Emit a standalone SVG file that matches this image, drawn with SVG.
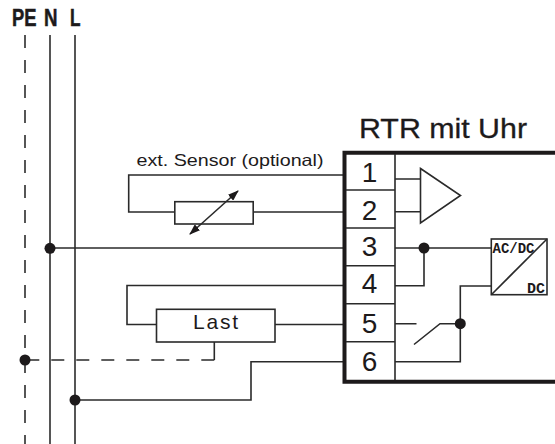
<svg xmlns="http://www.w3.org/2000/svg" width="555" height="444" viewBox="0 0 555 444">
<style>
text{font-family:"Liberation Sans",Arial,sans-serif;fill:#1d1a1b}
.w{fill:none;stroke:#2a2a2a;stroke-width:1.6}
.b{fill:none;stroke:#2a2a2a;stroke-width:1.6}
.g{fill:none;stroke:#444;stroke-width:1.8}
.d{stroke-dasharray:13 12}
.t{fill:none;stroke:#1d1a1b;stroke-width:4}
.dot{fill:#1d1a1b}
.n{font-size:28px;text-anchor:middle}
.bold{font-weight:bold;stroke:#1d1a1b;stroke-width:.5}
.m{font-family:"Liberation Mono",monospace;font-weight:bold}
</style>
<defs>
<marker id="a" viewBox="0 0 11 8" refX="10" refY="4" markerWidth="11" markerHeight="8" markerUnits="userSpaceOnUse" orient="auto-start-reverse"><path d="M0 0L11 4L0 8Z" fill="#1d1a1b"/></marker>
</defs>
<g id="connectors">
<path class="g d" d="M25 35V444"/>
<path class="g" d="M50 35V444M75 35V444"/>
<path class="w" d="M344 175H128.700V212H175M253 212H344"/>
<path class="w" d="M190 234L238 191" marker-start="url(#a)" marker-end="url(#a)"/>
<path class="w" d="M50 248H344"/>
<path class="w" d="M344 285.500H127V324.500H156.500M275 324.500H344"/>
<path class="w" d="M214.300 342V360"/>
<path class="w" d="M214.300 360H25" stroke-dasharray="13 12"/>
<path class="w" d="M75 400H251V361.800H344"/>
<path class="w" d="M395 179H420.500M395 211.700H420.500"/>
<path class="w" d="M395 248H491.300M424 248V285.700H395"/>
<path class="w" d="M491.300 286H460.300V361.800H395"/>
<path class="w" d="M395 323.700H416.500M414 344.500L440 323.700H460.300"/>
<circle class="dot" cx="50" cy="248.300" r="5.500"/>
<circle class="dot" cx="25" cy="360" r="5.500"/>
<circle class="dot" cx="75" cy="400" r="5.500"/>
<circle class="dot" cx="424" cy="248" r="5.500"/>
<circle class="dot" cx="460.300" cy="323.700" r="5.500"/>
</g>
<g id="headers">
<text class="bold" x="12" y="26" font-size="23" textLength="24.500" lengthAdjust="spacingAndGlyphs">PE</text>
<text class="bold" x="44" y="26" font-size="23" textLength="13.500" lengthAdjust="spacingAndGlyphs">N</text>
<text class="bold" x="70" y="26" font-size="23" textLength="10.500" lengthAdjust="spacingAndGlyphs">L</text>
</g>
<g id="rtr-title"><text x="359" y="137.500" font-size="27" textLength="168" lengthAdjust="spacingAndGlyphs" stroke="#1d1a1b" stroke-width="0.3">RTR mit Uhr</text></g>
<g id="sensor-label"><text x="136.500" y="166" font-size="16.500" textLength="187" lengthAdjust="spacingAndGlyphs">ext. Sensor (optional)</text></g>
<g id="sensor"><rect class="b" x="174.800" y="201.700" width="78.400" height="22.300"/></g>
<g id="last"><rect class="b" x="156.500" y="309.300" width="118.500" height="32.700"/><text x="193" y="329" font-size="21" textLength="45">Last</text></g>
<g id="rtr">
<path class="t" d="M555 152.700H344.500V381.700H555"/>
<path class="b" d="M395 154V380M346 190H395M346 228H395M346 265.700H395M346 303.700H395M346 341.700H395"/>
<text class="n" x="369.500" y="182">1</text>
<text class="n" x="369.500" y="220">2</text>
<text class="n" x="369.500" y="255.500">3</text>
<text class="n" x="369.500" y="293">4</text>
<text class="n" x="369.500" y="333">5</text>
<text class="n" x="369.500" y="371">6</text>
</g>
<g id="amplifier"><path class="b" d="M420.500 168.500L460.500 195.500L420.500 223Z"/></g>
<g id="acdc">
<rect class="b" x="491.300" y="239" width="55.700" height="55.700"/>
<path class="b" d="M491.300 294.700L547 239"/>
<text class="m" x="492.500" y="253" font-size="15" textLength="42" lengthAdjust="spacingAndGlyphs">AC/DC</text>
<text class="m" x="527" y="292.500" font-size="15" textLength="18" lengthAdjust="spacingAndGlyphs">DC</text>
</g>
</svg>
